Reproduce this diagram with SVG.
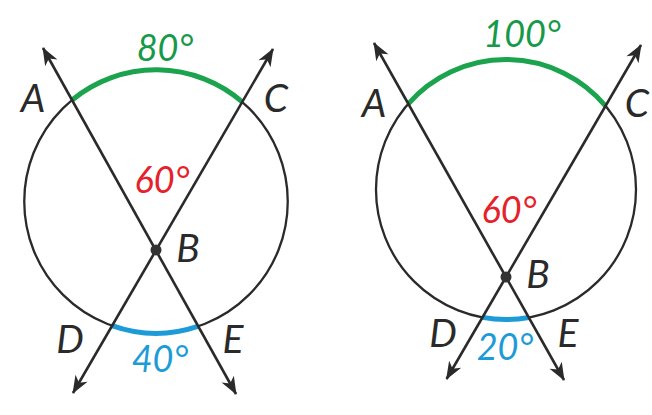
<svg xmlns="http://www.w3.org/2000/svg" width="652" height="415" viewBox="0 0 652 415">
<defs>
<marker id="arr" viewBox="-19 -8 21 16" refX="0" refY="0" markerWidth="21" markerHeight="16" markerUnits="userSpaceOnUse" orient="auto-start-reverse">
<path d="M1,0 L-17,-7 L-12,0 L-17,7 Z" fill="#2a2a2a"/>
</marker>
<style>
.circ{fill:none;stroke:#2a2a2a;stroke-width:2.3}
.ln{fill:none;stroke:#2a2a2a;stroke-width:2.6;marker-start:url(#arr);marker-end:url(#arr)}
.garc{fill:none;stroke:#1ba34d;stroke-width:5}
.barc{fill:none;stroke:#1d9bd7;stroke-width:5}
.lbl{font-family:Lato,"Open Sans","Liberation Sans",sans-serif;font-style:italic;font-weight:400;font-size:39px;fill:#2a2a2a;text-anchor:middle}
.num{font-family:Lato,"Open Sans","Liberation Sans",sans-serif;font-style:italic;font-weight:400;font-size:36px;text-anchor:middle}
.g{fill:#17994a}.r{fill:#e5212b}.b{fill:#1d9bd7}
.dot{fill:#333}
</style>
</defs>
<rect width="652" height="415" fill="#fff"/>
<g id="left-figure">
<g id="circle-left"><circle class="circ" cx="156" cy="201.5" r="131.75"/></g>
<g id="arcs-left">
<path class="garc" d="M72.1,100 A131.75,131.75 0 0 1 242.2,101.9"/>
<path class="barc" d="M111.9,325.7 A131.75,131.75 0 0 0 198.6,326.2"/>
</g>
<g id="connectors-left">
<line class="ln" x1="43" y1="48" x2="236" y2="394"/>
<line class="ln" x1="273" y1="49" x2="73" y2="393"/>
</g>
<g id="B-left"><circle class="dot" cx="156" cy="250" r="5.5"/><text class="lbl" x="188" y="262">B</text></g>
<g id="A-left"><text class="lbl" x="33" y="112">A</text></g>
<g id="C-left"><text class="lbl" x="276" y="112">C</text></g>
<g id="D-left"><text class="lbl" x="70" y="353">D</text></g>
<g id="E-left"><text class="lbl" x="233" y="353">E</text></g>
<text class="num g" x="165" y="61">80°</text>
<text class="num r" x="162" y="193">60°</text>
<text class="num b" x="160" y="372">40°</text>
</g>
<g id="right-figure">
<g id="circle-right"><circle class="circ" cx="506" cy="189.5" r="130"/></g>
<g id="arcs-right">
<path class="garc" d="M408.3,103.8 A130,130 0 0 1 605.5,105.9"/>
<path class="barc" d="M482.5,317.4 A130,130 0 0 0 528.8,317.5"/>
</g>
<g id="connectors-right">
<line class="ln" x1="374" y1="43" x2="564" y2="380"/>
<line class="ln" x1="641" y1="45" x2="446.6" y2="379"/>
</g>
<g id="B-right"><circle class="dot" cx="506" cy="277" r="5.5"/><text class="lbl" x="538" y="288">B</text></g>
<g id="A-right"><text class="lbl" x="374" y="117">A</text></g>
<g id="C-right"><text class="lbl" x="637" y="117">C</text></g>
<g id="D-right"><text class="lbl" x="443" y="347">D</text></g>
<g id="E-right"><text class="lbl" x="568" y="347">E</text></g>
<text class="num g" x="522" y="47">100°</text>
<text class="num r" x="509" y="223">60°</text>
<text class="num b" x="505" y="360">20°</text>
</g>
</svg>
